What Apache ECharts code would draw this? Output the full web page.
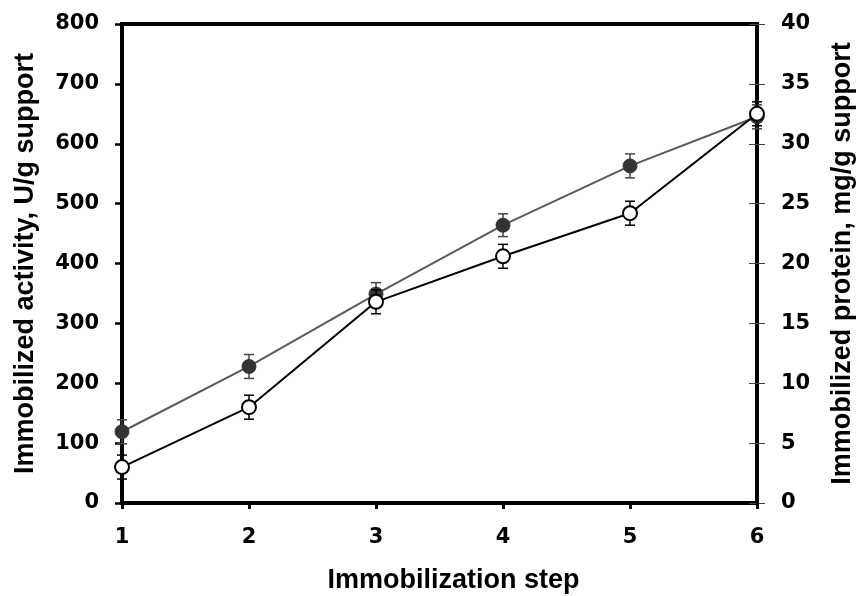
<!DOCTYPE html>
<html>
<head>
<meta charset="utf-8">
<script src="https://cdn.jsdelivr.net/npm/echarts@6/dist/echarts.min.js"></script>
<style>
  html, body { margin: 0; padding: 0; background: #fff; }
  #chart { width: 862px; height: 596px; }
</style>
</head>
<body>
<div id="chart"></div>
<script>
// Immobilization steps and measured values (mean ± SD)
const steps = [1, 2, 3, 4, 5, 6];
const activity = [119, 228, 349, 464, 563, 645];        // U/g support (left axis)
const activityErr = [20, 20, 19, 19, 20, 20];
const protein = [3.0, 8.0, 16.8, 20.6, 24.2, 32.5];     // mg/g support (right axis)
const proteinErr = [1.0, 1.0, 1.0, 1.0, 1.0, 1.0];

// Axis ranges
const activityAxis = { min: 0, max: 800, interval: 100 };
const proteinAxis = { min: 0, max: 40, interval: 5 };
const stepAxis = { min: 1, max: 6, interval: 1 };

const titleFont = { fontFamily: 'Liberation Sans, Arial, sans-serif', fontWeight: 'bold', fontSize: 27, color: '#000' };
const tickFont = { fontFamily: 'DejaVu Sans, sans-serif', fontWeight: 'bold', fontSize: 21, color: '#000' };

function errorSeries(values, errs, yAxisIndex, color, z) {
  return {
    type: 'custom',
    yAxisIndex: yAxisIndex,
    z: z,
    silent: true,
    data: steps.map((s, i) => [s, values[i] - errs[i], values[i] + errs[i]]),
    renderItem: function (params, api) {
      const lo = api.coord([api.value(0), api.value(1)]);
      const hi = api.coord([api.value(0), api.value(2)]);
      const half = 5;
      const style = { stroke: color, lineWidth: 1.5 };
      return {
        type: 'group',
        children: [
          { type: 'line', shape: { x1: lo[0], y1: lo[1], x2: hi[0], y2: hi[1] }, style: style },
          { type: 'line', shape: { x1: lo[0] - half, y1: lo[1], x2: lo[0] + half, y2: lo[1] }, style: style },
          { type: 'line', shape: { x1: hi[0] - half, y1: hi[1], x2: hi[0] + half, y2: hi[1] }, style: style }
        ]
      };
    }
  };
}

const chart = echarts.init(document.getElementById('chart'), null, { renderer: 'canvas' });
chart.setOption({
  animation: false,
  backgroundColor: '#fff',
  grid: {
    left: 122, right: 105, top: 24, bottom: 93,
    containLabel: false, outerBoundsMode: 'none',
    show: true, borderColor: '#000', borderWidth: 4, backgroundColor: 'transparent'
  },
  xAxis: {
    type: 'value',
    min: stepAxis.min, max: stepAxis.max, interval: stepAxis.interval,
    name: 'Immobilization step',
    nameLocation: 'middle',
    nameGap: 64,
    nameTextStyle: Object.assign({ padding: [0, 0, 0, 28] }, titleFont),
    axisLine: { show: true, lineStyle: { color: '#000', width: 4 } },
    axisTick: { show: true, inside: false, length: 6, lineStyle: { color: '#000', width: 3 } },
    axisLabel: Object.assign({ margin: 24 }, tickFont),
    splitLine: { show: false }
  },
  yAxis: [
    {
      type: 'value',
      position: 'left',
      min: activityAxis.min, max: activityAxis.max, interval: activityAxis.interval,
      name: 'Immobilized activity, U/g support',
      nameLocation: 'middle',
      nameGap: 83,
      nameTextStyle: titleFont,
      axisLine: { show: true, lineStyle: { color: '#000', width: 4 } },
      axisTick: { show: true, inside: false, length: 7, lineStyle: { color: '#000', width: 2.5 } },
      axisLabel: Object.assign({ margin: 23 }, tickFont),
      splitLine: { show: false }
    },
    {
      type: 'value',
      position: 'right',
      min: proteinAxis.min, max: proteinAxis.max, interval: proteinAxis.interval,
      name: 'Immobilized protein, mg/g support',
      nameLocation: 'middle',
      nameGap: 72,
      nameRotate: 90,
      nameTextStyle: titleFont,
      axisLine: { show: true, lineStyle: { color: '#000', width: 4 } },
      axisTick: { show: true, inside: false, length: 8, lineStyle: { color: '#444', width: 1 } },
      axisLabel: Object.assign({ margin: 24 }, tickFont),
      splitLine: { show: false }
    },
    {
      // inner half of the crossing ticks on the right axis
      type: 'value',
      position: 'right',
      min: proteinAxis.min, max: proteinAxis.max, interval: proteinAxis.interval,
      axisLine: { show: false },
      axisTick: { show: true, inside: true, length: 8, lineStyle: { color: '#444', width: 1 } },
      axisLabel: { show: false },
      splitLine: { show: false }
    }
  ],
  series: [
    errorSeries(activity, activityErr, 0, '#444', 2),
    {
      type: 'line',
      yAxisIndex: 0,
      z: 3,
      data: steps.map((s, i) => [s, activity[i]]),
      symbol: 'circle',
      symbolSize: 14,
      lineStyle: { color: '#5a5a5a', width: 2 },
      itemStyle: { color: '#333', borderColor: '#333', borderWidth: 1 }
    },
    errorSeries(protein, proteinErr, 1, '#000', 4),
    {
      type: 'line',
      yAxisIndex: 1,
      z: 5,
      data: steps.map((s, i) => [s, protein[i]]),
      symbol: 'circle',
      symbolSize: 14,
      lineStyle: { color: '#000', width: 2 },
      itemStyle: { color: '#fff', borderColor: '#000', borderWidth: 2 }
    }
  ]
});
</script>
</body>
</html>
